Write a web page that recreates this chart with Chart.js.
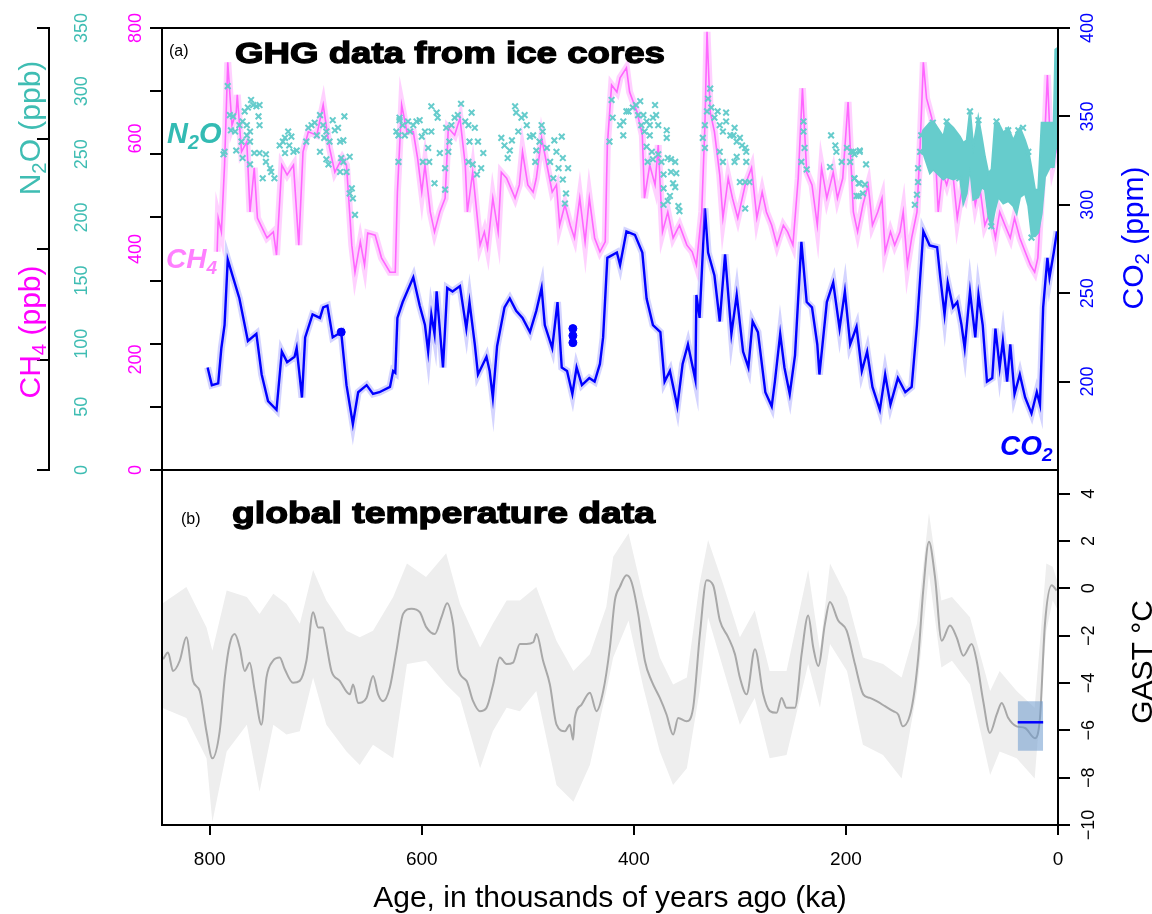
<!DOCTYPE html>
<html>
<head>
<meta charset="utf-8">
<script src="https://cdn.jsdelivr.net/npm/chart.js@4.4.0/dist/chart.umd.min.js"></script>
<style>
  body { margin: 0; background: #fff; }
  #wrap { position: relative; width: 1152px; height: 914px; }
  canvas { position: absolute; left: 0; }
  #top { top: 0; }
  #bottom { top: 460px; }
</style>
</head>
<body>
<div id="wrap">
  <canvas id="top" width="1152" height="480"></canvas>
  <canvas id="bottom" width="1152" height="454"></canvas>
</div>
<script>
// ---- data (age in ka) ----
const co2Age = [802,798,792,789,786,783,778,772,764,756,751,745,737,732,727,720,718,713,710,703,
  696,693,689,684,676,671,665,660,652,646,640,630,627,625,623,618,608,602,597,594,
  591,588,586,580,576,571,564,558,555,550,547,539,536,533,529,522,517,511,505,498,
  492,487,484,477,472,468,463,458,454,449,442,437,432,429,425,416,413,407,399,392,
  388,382,375,371,366,359,354,349,342,341,338,333,330,324,319,314,308,303,297,292,
  288,283,276,270,267,262,258,253,248,242,237,232,227,225,218,212,206,201,196,190,
  185,180,175,168,163,158,151,144,138,133,127,121,114,111,107,104,99,95,91,88,
  83,78,75,71,67,62,59,55,52,48,45,41,36,31,25,20,17,14,10,8,4,1];
const co2Ppm = [208,198,199,219,232,269,259,247,223,227,204,189,184,217,211,214,219,191,225,238,
  236,242,243,225,228,198,176,194,198,193,194,197,206,205,236,245,259,243,232,217,
  238,227,251,208,253,251,254,230,245,221,204,214,206,191,220,242,247,240,236,228,
  240,253,232,219,245,208,206,193,208,198,202,200,210,225,270,273,266,285,283,273,
  247,232,228,200,206,186,210,221,201,249,236,298,273,260,234,272,227,249,217,208,
  234,228,194,186,200,227,208,193,215,279,245,242,221,204,245,256,230,251,221,231,
  206,217,197,184,204,187,202,194,197,232,285,277,276,259,238,256,242,245,232,219,
  251,225,249,232,200,202,230,208,223,200,221,193,204,191,182,194,187,242,270,259,273,285];
const co2DotAge = [676,457.5,457.5,457.5];
const co2DotPpm = [228,230,226,222];

const ch4Age = [793,792,789,786,783,779,775,774,770,765,762,758,755,746,740,737,732,727,721,716,
  712,707,699,693,687,682,675,671,666,663,658,654,651,644,638,630,625,623,619,614,
  608,604,600,597,592,588,583,578,575,569,564,559,557,552,545,541,538,533,528,525,
  520,512,508,505,500,495,492,487,482,477,473,470,465,460,456,451,446,442,437,432,
  427,425,421,416,413,407,404,397,392,390,385,380,377,373,368,363,357,350,345,341,
  336,333,331,328,324,319,316,311,307,302,295,289,284,279,275,270,265,259,255,250,
  245,241,237,232,227,223,218,212,208,203,198,193,189,184,179,175,170,166,163,158,
  154,149,146,142,138,133,130,127,124,119,116,113,109,105,100,95,91,88,83,78,
  74,69,64,59,55,50,45,41,36,31,26,22,19,15,12,10,8,5,2,0.5];
const ch4Ppb = [395,456,431,552,738,624,648,679,576,594,467,547,456,420,431,389,552,534,552,407,
  576,612,606,661,583,539,565,552,407,358,413,371,429,425,384,358,358,503,661,612,
  612,565,503,552,467,431,467,492,619,606,637,552,467,539,407,431,402,492,431,539,
  528,492,516,576,516,503,528,601,552,503,516,443,480,443,420,492,413,492,420,395,
  413,588,697,684,710,728,684,648,606,492,552,516,588,431,467,420,443,407,395,371,
  467,624,793,648,612,534,456,528,492,456,516,547,456,503,467,443,407,443,431,407,
  528,691,539,516,443,547,492,539,492,528,666,467,431,480,516,443,467,492,395,431,
  407,431,467,371,420,467,588,738,673,637,588,467,539,516,552,456,503,492,552,480,
  516,443,467,420,467,443,420,456,420,395,371,358,384,516,624,715,624,552,576,600];

const n2oAge = [783,781,778,780,786,787,775,776,772,769,767,764,761,759,756,753,754,753,765,762,
  770,765,762,769,762,758,753,747,747,743,750,742,739,734,731,729,726,723,725,721,
  718,729,709,707,704,701,696,699,693,690,692,696,687,684,682,679,677,674,673,676,
  674,671,677,668,666,668,665,663,688,690,622,622,621,
  624,621,618,613,608,605,602,611,616,600,597,591,599,593,594,591,586,585,583,588,
  578,578,575,574,577,572,569,566,563,559,556,553,550,547,555,556,552,548,544,542,
  525,522,519,517,515,512,511,509,506,503,501,498,495,493,492,489,487,486,482,479,
  476,475,473,471,468,467,467,464,465,462,423,421,420,413,410,407,
  410,405,401,398,394,391,396,393,390,388,385,382,380,379,377,385,388,383,387,382,
  377,374,372,369,369,368,365,361,365,360,363,361,372,366,368,358,372,357,333,335,
  333,331,330,328,327,324,321,319,316,313,313,309,306,305,303,300,298,295,294,303,
  305,294,316,319,300,295,291,295,240,240,239,242,237,214,215,210,209,204,199,196,
  193,192,190,188,187,
  195,192,187,192,187,182,188,184,181,135,133,132,132,130,129,83,75,58,47,33,28,63,25,93,105,118,37.4];
const n2oPpb = [304,281,280,269,252,250,253,268,273,276,284,287,293,289,288,289,280,273,273,268,
  260,265,260,247,242,251,251,250,244,239,231,236,231,257,260,263,268,264,257,252,
  253,251,260,271,273,275,281,265,273,268,263,252,260,277,269,271,260,261,280,247,
  244,236,236,248,223,219,215,202,242,246,265,244,279,
  268,277,273,276,273,276,277,268,265,264,268,268,244,244,255,288,283,279,251,227,
  222,239,252,260,271,273,279,281,290,276,273,283,271,260,260,244,242,234,239,251,
  263,257,247,253,261,288,283,268,279,281,273,264,265,244,253,260,273,268,255,244,
  231,261,252,239,264,247,230,219,211,239,260,293,279,273,265,284,
  276,284,287,289,292,281,281,273,268,276,273,279,289,281,273,265,256,252,244,246,
  250,244,234,269,263,247,246,244,236,235,227,224,223,217,213,209,210,205,255,263,
  273,284,294,302,287,279,284,273,268,283,276,265,265,271,260,263,257,255,252,248,
  244,244,244,252,228,228,228,207,276,268,255,244,238,265,240,257,252,244,255,244,
  252,231,217,227,252,
  252,250,253,231,227,226,217,219,242,210,218,228,239,252,265,284,277,276,269,271,252,193,184,231,276,275,269];
// dense high-resolution N2O record of the last glacial cycle (upper / lower edge of the cloud)
const n2oDenseAge = [128.6,127.1,120.8,117.6,108.2,105,98.8,92.5,89.3,86.1,83,79.9,75.2,72,68.9,65.7,
  62.6,59.4,56.3,51.6,46.9,42.2,39,35.8,31.1,28,24.8,21.7,18.6,15.4,12.3,7.5,4,2.5,0.5];
const n2oDenseHi = [265,269,275,276,264,276,271,264,259,261,285,256,279,264,248,235,
  238,275,275,267,271,261,267,271,261,253,238,222,222,275,275,275,275,333,334];
const n2oDenseLo = [252,251,235,238,230,232,230,232,211,219,240,214,216,224,222,201,
  193,206,216,211,213,209,203,216,219,209,185,185,188,203,232,240,240,253,258];

const tempAge = [844,839.3,834.6,828.3,822,815.8,809.4,803.1,797.5,790.6,785.8,781.1,776.4,771.7,767,762.3,757.5,751.2,746.5,740.3,
  734,729.2,721.4,715.1,708.8,702.5,697.8,693.1,690,685.2,677.4,667.9,664.8,660.1,652.2,645.9,641.2,636.5,630.2,623.9,
  617.6,609.7,601.9,595.6,587.7,581.4,576.1,570.5,565.7,557.8,551.6,545.3,539,532.7,526.4,520.1,513.9,507.5,501.2,494.9,
  491.8,485.6,479.2,472.9,465.1,460.4,457.3,455.7,449.3,441.5,435.2,428.9,422.6,417.9,413.2,406.9,402.2,395.9,389.6,383.3,
  375.5,369.2,362.9,358.2,350.3,344.1,337.7,331.4,325.2,318.9,311,304.7,300,293.7,285.8,278,271.7,265.4,260.7,256,
  248.1,241.8,235.6,230.8,226.1,219.8,215.1,207.3,199.3,191.5,183.7,177.4,171,163.2,155.4,150.7,146.5,138,131.8,127.1,
  121.7,116,109.7,101.9,95.6,89.3,81.4,76.7,70.5,64.2,57.8,53.1,46.9,39,31.1,21.7,17,12.3,5.9,1.3];
const tempC = [-2.99,-2.71,-3.49,-3.06,-2.07,-3.91,-4.34,-6.04,-7.18,-6.04,-3.77,-2.35,-1.93,-2.50,-3.49,-3.14,-4.34,-5.76,-3.77,-3.06,
  -2.92,-3.42,-3.99,-3.91,-3.06,-1.01,-1.65,-1.65,-2.35,-3.49,-3.91,-4.48,-4.06,-4.84,-4.63,-3.70,-4.48,-4.77,-4.20,-2.64,
  -1.08,-0.86,-1.01,-1.65,-1.93,-1.22,-0.63,-1.50,-3.42,-3.91,-4.77,-5.19,-5.05,-4.06,-2.92,-3.20,-3.14,-2.35,-2.35,-2.28,
  -1.93,-3.06,-4.06,-5.76,-6.04,-5.76,-6.40,-5.48,-4.91,-4.41,-5.19,-4.34,-2.50,-0.51,0.06,0.55,0.27,-1.08,-3.06,-3.91,
  -4.63,-5.33,-6.18,-5.48,-5.62,-5.05,-1.93,0.34,0.13,-1.36,-2.07,-2.78,-3.77,-4.48,-2.57,-4.48,-5.19,-5.26,-4.63,-5.05,
  -5.05,-2.78,-1.15,-2.50,-3.28,-1.50,-0.58,-1.36,-1.79,-3.20,-4.48,-4.63,-4.77,-4.98,-5.19,-5.33,-5.83,-5.05,-2.92,-0.09,
  1.97,0.48,-2.21,-1.57,-2.07,-2.85,-2.35,-3.06,-4.77,-6.11,-5.33,-4.84,-5.48,-5.83,-5.90,-6.33,-5.48,-1.50,0.13,-0.09];
const tempBandAge = [845,822,803,797.5,784,765,753,740,727.6,715,702.5,690,671,658.5,646,627,614,596,577,564,
  545,533,520,507.5,492,473,457,441.5,426,419.5,405,391,375.5,363,350,338,330,316,300,286,
  272,256,235.6,224.5,215,199,184,165,147.5,133,121.7,110,100,83,64,55,39,22,11,5,0];
const tempBandHi = [-0.65,0.06,-1.65,-2.64,-0.09,-0.37,-1.08,-0.23,-0.65,-1.50,0.77,-0.51,-1.79,-2.07,-1.79,-0.37,1.05,0.48,1.48,-0.65,
  -2.50,-1.50,-0.51,-0.51,0.06,-2.21,-3.49,-2.78,-0.79,1.33,2.33,-0.37,-2.92,-4.06,-3.77,0.20,2.04,0.20,-2.07,-0.94,
  -3.49,-3.49,0.77,-2.64,1.05,-0.37,-2.92,-3.20,-3.77,-1.50,3.18,-0.51,-0.37,-1.22,-4.34,-3.49,-4.34,-5.05,1.05,0.91,0.20];
const tempBandLo = [-5.05,-5.48,-7.18,-9.87,-6.89,-5.76,-8.60,-5.76,-6.18,-6.04,-3.77,-5.76,-6.89,-7.46,-6.61,-7.18,-3.20,-3.06,-4.06,-4.63,
  -7.60,-6.04,-5.05,-5.19,-4.34,-8.31,-9.02,-7.46,-4.34,-2.92,-1.36,-4.20,-6.89,-8.31,-7.60,-4.34,-1.22,-3.35,-5.76,-4.63,
  -7.18,-7.04,-3.20,-5.05,-2.35,-3.49,-6.61,-7.04,-8.03,-4.34,0.63,-3.35,-3.06,-4.06,-7.89,-6.89,-7.18,-8.03,-1.79,-0.51,-0.94];
// Last Glacial Maximum estimate (box + mean)
const lgmAge = [38, 14];
const lgmHi = [-4.77, -4.77];
const lgmLo = [-6.86, -6.86];
const lgmMean = [-5.66, -5.66];

// tick labels
const n2oTicks = [0, 50, 100, 150, 200, 250, 300, 350];
const ch4Ticks = [0, 200, 400, 600, 800];
const co2Ticks = [200, 250, 300, 350, 400];
const gastTicks = [-10, -8, -6, -4, -2, 0, 2, 4];
const ageTicks = [0, 200, 400, 600, 800];

// ---- styles ----
const FONT = '"Liberation Sans", Arial, Helvetica, sans-serif';
const TEAL = '#3fbdb3';
const CYAN = '#66cccc';
const MAGENTA = '#ff00ff';
const PINK = '#ff66ff';
const BLUE = '#0000ff';
Chart.defaults.font.family = FONT;

function xy(xs, ys) {
  return xs.map((x, i) => ({x: x, y: ys[i]})).sort((a, b) => a.x - b.x);
}

function yAxis(pos, min, max, list, width) {
  return {
    type: 'linear', position: pos, min: min, max: max,
    afterBuildTicks: s => { s.ticks = list.map(v => ({value: v})); },
    afterFit: s => { s.width = width; },
    ticks: {display: false},
    grid: {drawOnChartArea: false, drawTicks: true, tickLength: 12, color: '#000', lineWidth: 2},
    border: {display: true, color: '#000', width: 2}
  };
}

function rotLabels(ctx, scale, list, x, color, size) {
  ctx.save();
  ctx.fillStyle = color;
  ctx.font = size + 'px ' + FONT;
  ctx.textAlign = 'center';
  ctx.textBaseline = 'middle';
  list.forEach(v => {
    ctx.save();
    ctx.translate(x, scale.getPixelForValue(v));
    ctx.rotate(-Math.PI / 2);
    ctx.fillText(String(v).replace('-', '\u2212'), 0, 0);
    ctx.restore();
  });
  ctx.restore();
}

// parts: [text, isSubscript]
function rich(ctx, parts, x, y, size, color, rotated, style, align) {
  ctx.save();
  ctx.translate(x, y);
  if (rotated) ctx.rotate(-Math.PI / 2);
  ctx.fillStyle = color;
  ctx.textAlign = 'left';
  ctx.textBaseline = 'alphabetic';
  const f = sz => (style + ' ' + sz + 'px ' + FONT).trim();
  let w = 0;
  parts.forEach(p => { ctx.font = f(p[1] ? size * 0.68 : size); w += ctx.measureText(p[0]).width; });
  let cx = align === 'center' ? -w / 2 : 0;
  const by = rotated ? size * 0.36 : 0;
  parts.forEach(p => {
    ctx.font = f(p[1] ? size * 0.68 : size);
    ctx.fillText(p[0], cx, by + (p[1] ? size * 0.22 : 0));
    cx += ctx.measureText(p[0]).width;
  });
  ctx.restore();
}

function heavyText(ctx, s, x, y, size, targetW) {
  ctx.save();
  ctx.font = 'bold ' + size + 'px ' + FONT;
  const w = ctx.measureText(s).width;
  ctx.translate(x, y);
  ctx.scale(targetW / w, 1);
  ctx.fillStyle = '#000';
  ctx.strokeStyle = '#000';
  ctx.lineWidth = 1.3;
  ctx.textAlign = 'left';
  ctx.textBaseline = 'alphabetic';
  ctx.fillText(s, 0, 0);
  ctx.strokeText(s, 0, 0);
  ctx.restore();
}

function plain(ctx, s, x, y, size) {
  ctx.save();
  ctx.font = size + 'px ' + FONT;
  ctx.fillStyle = '#000';
  ctx.textAlign = 'left';
  ctx.textBaseline = 'alphabetic';
  ctx.fillText(s, x, y);
  ctx.restore();
}

const topDecor = {
  id: 'topDecor',
  afterDraw(chart) {
    const ctx = chart.ctx, a = chart.chartArea, s = chart.scales;
    ctx.save();
    ctx.strokeStyle = '#000';
    ctx.lineWidth = 2;
    ctx.strokeRect(a.left, a.top, a.right - a.left, a.bottom - a.top);
    ctx.restore();
    rotLabels(ctx, s.yN2O, n2oTicks, 82, TEAL, 18);
    rotLabels(ctx, s.yCH4, ch4Ticks, 136, MAGENTA, 18);
    rotLabels(ctx, s.yCO2, co2Ticks, 1088, BLUE, 18);
    rich(ctx, [['N'], ['2', 1], ['O (ppb)']], 29, 128, 30, TEAL, true, '', 'center');
    rich(ctx, [['CH'], ['4', 1], [' (ppb)']], 29, 332, 30, MAGENTA, true, '', 'center');
    rich(ctx, [['CO'], ['2', 1], [' (ppm)']], 1132, 238, 30, BLUE, true, '', 'center');
    plain(ctx, '(a)', 169, 56, 16);
    heavyText(ctx, 'GHG data from ice cores', 235, 63, 30, 430);
    rich(ctx, [['N'], ['2', 1], ['O']], 167, 143, 29, '#33bbb3', false, 'italic bold', 'left');
    rich(ctx, [['CH'], ['4', 1]], 166, 268, 28, '#ff80ff', false, 'italic bold', 'left');
    rich(ctx, [['CO'], ['2', 1]], 1000, 455, 28, BLUE, false, 'italic bold', 'left');
  }
};

const bottomDecor = {
  id: 'bottomDecor',
  afterDraw(chart) {
    const ctx = chart.ctx, a = chart.chartArea, s = chart.scales;
    ctx.save();
    ctx.strokeStyle = '#000';
    ctx.lineWidth = 2;
    ctx.strokeRect(a.left, a.top, a.right - a.left, a.bottom - a.top);
    ctx.restore();
    rotLabels(ctx, s.yT, gastTicks, 1089, '#000', 18);
    rich(ctx, [['GAST \u00b0C']], 1141, 202, 30, '#000', true, '', 'center');
    plain(ctx, '(b)', 181, 64, 16);
    heavyText(ctx, 'global temperature data', 232, 63, 30, 423);
  }
};

const common = {
  responsive: false,
  animation: false,
  devicePixelRatio: 1,
  events: [],
  plugins: {legend: {display: false}, tooltip: {enabled: false}},
  elements: {point: {radius: 0}, line: {tension: 0}}
};

new Chart(document.getElementById('top'), {
  type: 'line',
  data: {
    datasets: [
      {data: xy(n2oAge, n2oPpb), yAxisID: 'yN2O', showLine: false, pointStyle: 'crossRot',
       pointRadius: 4, pointBorderWidth: 2, borderColor: CYAN, backgroundColor: CYAN, order: 0},
      {data: xy(n2oDenseAge, n2oDenseHi), yAxisID: 'yN2O', borderColor: CYAN, borderWidth: 2,
       backgroundColor: CYAN, fill: '+1', order: 1},
      {data: xy(n2oDenseAge, n2oDenseLo), yAxisID: 'yN2O', borderColor: CYAN, borderWidth: 2, order: 1},
      {data: xy(co2DotAge, co2DotPpm), yAxisID: 'yCO2', showLine: false, pointRadius: 4,
       pointBackgroundColor: BLUE, pointBorderColor: BLUE, order: 2},
      {data: xy(ch4Age, ch4Ppb), yAxisID: 'yCH4', borderColor: PINK, borderWidth: 1.6, order: 3},
      {data: xy(ch4Age, ch4Ppb), yAxisID: 'yCH4', borderColor: 'rgba(255,102,255,0.3)', borderWidth: 7, order: 4},
      {data: xy(co2Age, co2Ppm), yAxisID: 'yCO2', borderColor: BLUE, borderWidth: 2.4, order: 5},
      {data: xy(co2Age, co2Ppm), yAxisID: 'yCO2', borderColor: 'rgba(60,60,255,0.22)', borderWidth: 7, order: 6}
    ]
  },
  options: Object.assign({}, common, {
    layout: {padding: {left: 0, right: 0, top: 28, bottom: 10}},
    scales: {
      x: {type: 'linear', reverse: true, min: 0, max: 845, display: false},
      yN2O: yAxis('left', 0, 350, n2oTicks, 113),
      yCH4: yAxis('left', 0, 800, ch4Ticks, 49),
      yCO2: yAxis('right', 150, 400, co2Ticks, 94)
    }
  }),
  plugins: [topDecor]
});

new Chart(document.getElementById('bottom'), {
  type: 'line',
  data: {
    datasets: [
      {data: xy(lgmAge, lgmMean), yAxisID: 'yT', borderColor: BLUE, borderWidth: 2.5, order: 0},
      {data: xy(lgmAge, lgmHi), yAxisID: 'yT', borderWidth: 0, borderColor: 'rgba(0,0,0,0)',
       backgroundColor: 'rgba(110,155,205,0.55)', fill: '+1', order: 1},
      {data: xy(lgmAge, lgmLo), yAxisID: 'yT', borderWidth: 0, borderColor: 'rgba(0,0,0,0)', order: 1},
      {data: xy(tempAge, tempC), yAxisID: 'yT', borderColor: '#a8a8a8', borderWidth: 2,
       cubicInterpolationMode: 'monotone', order: 2},
      {data: xy(tempBandAge, tempBandHi), yAxisID: 'yT', borderWidth: 0, borderColor: 'rgba(0,0,0,0)',
       backgroundColor: '#eeeeee', fill: '+1', order: 3},
      {data: xy(tempBandAge, tempBandLo), yAxisID: 'yT', borderWidth: 0, borderColor: 'rgba(0,0,0,0)', order: 3}
    ]
  },
  options: Object.assign({}, common, {
    layout: {padding: {left: 162, right: 0, top: 10, bottom: 0}},
    scales: {
      x: {
        type: 'linear', reverse: true, min: 0, max: 845, position: 'bottom',
        afterBuildTicks: s => { s.ticks = ageTicks.map(v => ({value: v})); },
        afterFit: s => { s.height = 89; },
        ticks: {color: '#000', font: {size: 19}, padding: 13, maxRotation: 0, autoSkip: false},
        grid: {drawOnChartArea: false, drawTicks: true, tickLength: 10, color: '#000', lineWidth: 2},
        border: {display: true, color: '#000', width: 2},
        title: {display: true, text: 'Age, in thousands of years ago (ka)', color: '#000',
                font: {size: 30}, padding: {top: 0, bottom: -3}}
      },
      yT: yAxis('right', -10, 5, gastTicks, 94)
    }
  }),
  plugins: [bottomDecor]
});
</script>
</body>
</html>
